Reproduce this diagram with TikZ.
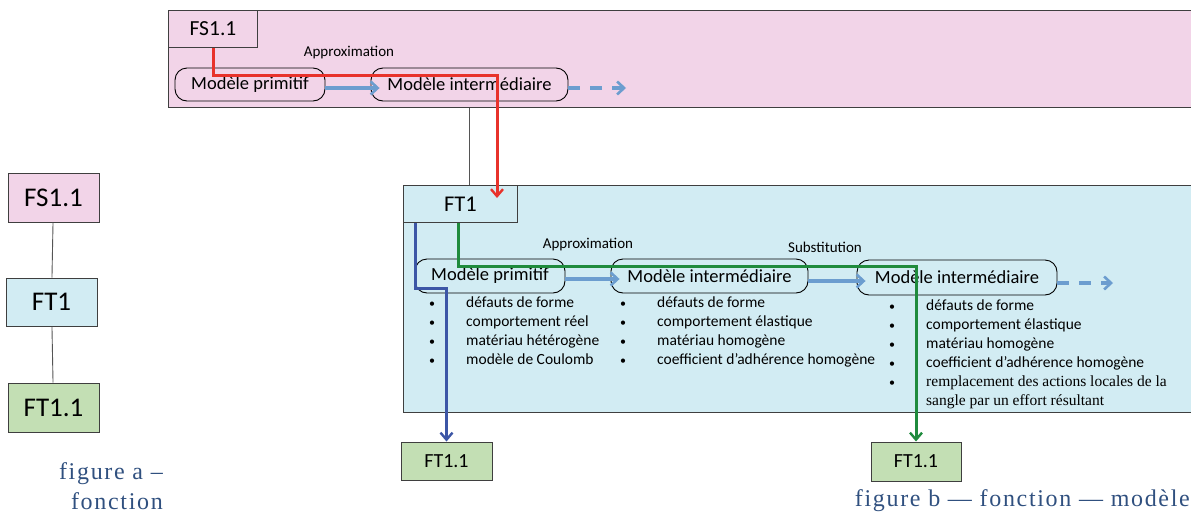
\documentclass[tikz,border=0pt]{standalone}
\usepackage{fontspec}
\setmainfont{Carlito}
\newfontfamily\capfont[LetterSpace=7]{Liberation Serif}
\newfontfamily\listserif{Liberation Serif}
\usetikzlibrary{arrows.meta,positioning}
\definecolor{FctPink}{HTML}{F2D4E8}
\definecolor{FctBlue}{HTML}{D2ECF3}
\definecolor{FctGreen}{HTML}{C3DFB4}
\definecolor{FctBorder}{HTML}{3F3F3F}
\definecolor{FctArrow}{HTML}{6C9DCF}
\definecolor{FctRed}{HTML}{E8322B}
\definecolor{FctNavy}{HTML}{3C56A6}
\definecolor{FctForest}{HTML}{1F8B3D}
\definecolor{FctCaption}{HTML}{30507F}
\definecolor{FctLink}{HTML}{555555}
\newcommand{\itm}[1]{\makebox[37pt][l]{\fontsize{12}{12}\selectfont •}#1}

\begin{document}
\begin{tikzpicture}[x=1pt, y=-1pt,
  panel/.style={draw=FctBorder, line width=1pt, anchor=north west, inner sep=0pt},
  fbox/.style={draw=FctBorder, line width=1pt, inner sep=0pt, font=\fontsize{22.5}{22.5}\selectfont},
  model/.style={draw=black, line width=0.9pt, rounded corners=12pt, inner sep=0pt, font=\fontsize{18.5}{18.5}\selectfont},
  tag/.style={font=\fontsize{15}{15}\selectfont},
  items/.style={anchor=north west, align=left, inner sep=0pt, font=\fontsize{15.5}{19}\selectfont},
  flow/.style={-{Straight Barb[length=7pt,width=13pt,line width=2.6pt]}, line width=3.2pt, draw=FctArrow},
  flowmore/.style={flow, dash pattern=on 12pt off 10pt},
  route/.style={-{Straight Barb[length=7pt,width=12pt,line width=2.4pt]}, line width=3pt},
  link/.style={draw=FctLink, line width=0.9pt},
  caption/.style={anchor=east, align=right, inner sep=0pt, text=FctCaption, font=\capfont\fontsize{24}{30}\selectfont}
]
  \useasboundingbox (0,0) rectangle (1191,517);
  \clip (0,0) rectangle (1191,517);

  % figure a
  \node[fbox, fill=FctPink, minimum width=91pt, minimum height=49pt, font=\fontsize{27}{27}\selectfont] (fsLeft) at (53.5,197.5) {FS1.1};
  \node[fbox, fill=FctBlue, minimum width=91pt, minimum height=48pt, font=\fontsize{27}{27}\selectfont] (ftLeft) at (51.5,302) {FT1};
  \node[fbox, fill=FctGreen, minimum width=91pt, minimum height=49pt, font=\fontsize{27}{27}\selectfont] (subLeft) at (53.5,407.5) {FT1.1};
  \draw[link] (fsLeft) -- (ftLeft);
  \draw[link] (ftLeft) -- (subLeft);
  \node[caption] (capA) at (163,486) {figure a –\\fonction};

  % figure b, FS1.1 level
  \node[panel, fill=FctPink, minimum width=1040pt, minimum height=97pt] (fsPanel) at (168,10) {};
  \node[fbox, fill=FctPink, anchor=north west, minimum width=89pt, minimum height=37pt, font=\fontsize{21.5}{21.5}\selectfont] (fsTop) at (168,10) {FS1.1};
  \node[tag] (approxS) at (349,53) {Approximation};
  \node[model, minimum width=150pt, minimum height=33pt] (primS) at (250,84.5) {Modèle primitif};
  \node[model, minimum width=197pt, minimum height=33pt] (interS) at (469.5,84.5) {Modèle intermédiaire};
  \coordinate (moreS) at (626,88);
  \draw[flow] ([yshift=-3.5pt]primS.east) -- ([xshift=9pt,yshift=-3.5pt]interS.west);
  \draw[flowmore] ([yshift=-3.5pt]interS.east) -- (moreS);

  % figure b, FT1 level
  \node[panel, fill=FctBlue, minimum width=800pt, minimum height=227pt] (ftPanel) at (403,185) {};
  \node[fbox, fill=FctBlue, anchor=north west, minimum width=114pt, minimum height=37pt] (ftTop) at (403,185) {FT1};
  \draw[link] (interS.south |- fsPanel.south) -- (interS.south |- ftTop.north);
  \node[tag] (approxT) at (588,245) {Approximation};
  \node[tag] (substT) at (825,247) {Substitution};
  \node[model, minimum width=150pt, minimum height=34pt] (primT) at (490,276) {Modèle primitif};
  \node[model, minimum width=197pt, minimum height=34pt] (interT) at (709.5,276) {Modèle intermédiaire};
  \node[model, minimum width=200pt, minimum height=35pt] (interU) at (957,277.5) {Modèle intermédiaire};
  \coordinate (moreT) at (1113,283);
  \draw[flow] ([yshift=-3pt]primT.east) -- ([xshift=9pt,yshift=-3pt]interT.west);
  \draw[flow] ([yshift=-5pt]interT.east) -- ([xshift=9pt,yshift=-3.5pt]interU.west);
  \draw[flowmore] ([yshift=-5.5pt]interU.east) -- (moreT);

  \node[items] (propsA) at (429,297) {\itm{défauts de forme}\\\itm{comportement réel}\\\itm{matériau hétérogène}\\\itm{modèle de Coulomb}};
  \node[items] (propsB) at (620,297) {\itm{défauts de forme}\\\itm{comportement élastique}\\\itm{matériau homogène}\\\itm{coefficient d’adhérence homogène}};
  \node[items] (propsC) at (889,300) {\itm{défauts de forme}\\\itm{comportement élastique}\\\itm{matériau homogène}\\\itm{coefficient d’adhérence homogène}\\\itm{{\listserif remplacement des actions locales de la}}\\\hspace*{37pt}{\listserif sangle par un effort résultant}};

  \node[fbox, fill=FctGreen, minimum width=91pt, minimum height=38pt, font=\fontsize{20}{20}\selectfont] (subA) at (446.5,461) {FT1.1};
  \node[fbox, fill=FctGreen, minimum width=90pt, minimum height=39pt, font=\fontsize{20}{20}\selectfont] (subB) at (916,461.5) {FT1.1};
  \node[caption] (capB) at (1190,501) {figure b — fonction — modèle};

  % routes
  \draw[route, FctRed] (fsTop.south) -- ++(0,27) -| ([xshift=-21pt,yshift=-13pt]ftTop.north east);
  \draw[route, FctNavy] ([xshift=12pt]ftTop.south west) -- ++(0,65) -| (subA.north);
  \draw[route, FctForest] ([xshift=55pt]ftTop.south west) -- ++(0,43) -| (subB.north);
\end{tikzpicture}
\end{document}
